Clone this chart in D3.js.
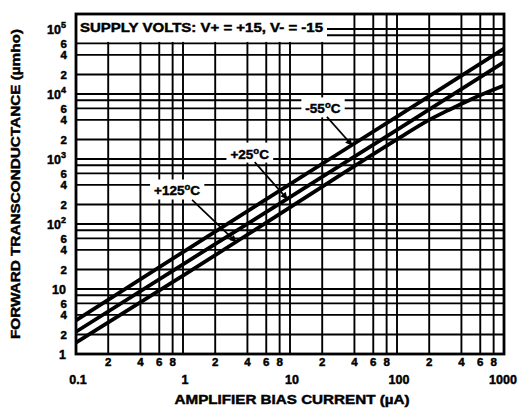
<!DOCTYPE html>
<html><head><meta charset="utf-8">
<script src="https://cdn.jsdelivr.net/npm/d3@7"></script>
<style>body{margin:0;background:#fff}svg{display:block}text{font-family:"Liberation Sans",Arial,sans-serif;font-weight:bold;fill:#000;stroke:#000;stroke-width:0.45px}</style>
</head><body><svg id="c" width="518" height="408"></svg>
<script>
// ---- data ----
const xDecades = [0.1, 1, 10, 100, 1000];
const xDecadeLabels = ["0.1", "1", "10", "100", "1000"];
const xMinorMult = [2, 4, 6, 8];
const yDecades = [1, 10, 100, 1000, 10000, 100000];
const yDecadeBase = ["1", "10", "10", "10", "10", "10"];
const yDecadeExp = ["", "", "2", "3", "4", "5"];
const yMinorMult = [2, 4, 6];
const gridMult = [1, 2, 4, 6, 8];

const current = [0.1, 1, 10, 100, 1000];
const gmMinus55 = [3.3, 37, 410, 4500, 50000];
const gmPlus25 = [2.2, 24, 260, 2800, 31000];
const current125 = [0.1, 1, 10, 100, 200, 300, 500, 1000];
const gmPlus125 = [1.5, 16, 180, 2000, 4000, 5600, 8400, 13500];

const seriesNames = ["-55°C", "+25°C", "+125°C"];
const labelI = [20.3, 4.2, 0.88];
const labelGm = [5900, 1190, 322];
const arrowI = [37.9, 9.4, 3.13];

const headerText = "SUPPLY VOLTS: V+ = +15, V- = -15";
const xTitle = "AMPLIFIER BIAS CURRENT (\u00b5A)";
const yTitle = "FORWARD TRANSCONDUCTANCE (\u00b5mho)";

// ---- layout ----
const L = 76, R = 504, B = 354, T = 14;
const x = d3.scaleLog().domain([0.1, 1000]).range([L, R]);
const yTopVal = Math.pow(10, (B - T) / 65);
const y = d3.scaleLog().domain([1, yTopVal]).range([B, T]);

const svg = d3.select("#c");

const xGrid = [];
xDecades.forEach(d => gridMult.forEach(m => { const v = d * m; if (v <= 1000 + 1e-9) xGrid.push(v); }));
const yGrid = [];
yDecades.forEach(d => gridMult.forEach(m => { const v = d * m; if (v <= 100000 + 1e-9) yGrid.push(v); }));

const g = svg.append("g");
g.selectAll("line.v").data(xGrid).join("line")
  .attr("x1", d => x(d)).attr("x2", d => x(d)).attr("y1", T).attr("y2", B)
  .attr("stroke", "#000").attr("stroke-width", 1.9);
g.selectAll("line.h").data(yGrid).join("line")
  .attr("x1", L).attr("x2", R).attr("y1", d => y(d)).attr("y2", d => y(d))
  .attr("stroke", "#000").attr("stroke-width", 1.9);

// header box
svg.append("rect").attr("x", L + 1).attr("y", T + 1).attr("width", 250).attr("height", y(60000) - T - 2.5).attr("fill", "#fff");
svg.append("text").attr("x", 80).attr("y", 32).attr("font-size", 13)
  .attr("textLength", 243).attr("lengthAdjust", "spacingAndGlyphs").text(headerText);

// border
svg.append("rect").attr("x", L).attr("y", T).attr("width", R - L).attr("height", B - T)
  .attr("fill", "none").attr("stroke", "#000").attr("stroke-width", 2.8);

// curves
const line = d3.line().x(d => x(d[0])).y(d => y(d[1])).curve(d3.curveMonotoneX);
const curves = [
  d3.zip(current, gmMinus55),
  d3.zip(current, gmPlus25),
  d3.zip(current125, gmPlus125)
];
svg.selectAll("path.curve").data(curves).join("path")
  .attr("d", line).attr("fill", "none").attr("stroke", "#000").attr("stroke-width", 3.8);

function gmAt(ci, I) {
  const c = curves[ci];
  for (let i = 0; i < c.length - 1; i++) {
    if (I >= c[i][0] && I <= c[i + 1][0]) {
      const t = (Math.log(I) - Math.log(c[i][0])) / (Math.log(c[i + 1][0]) - Math.log(c[i][0]));
      return Math.exp(Math.log(c[i][1]) + t * (Math.log(c[i + 1][1]) - Math.log(c[i][1])));
    }
  }
  return c[c.length - 1][1];
}

// annotations
const defs = svg.append("defs");
defs.append("marker").attr("id", "ah").attr("viewBox", "0 0 10 10").attr("refX", 9).attr("refY", 5)
  .attr("markerWidth", 9).attr("markerHeight", 7).attr("markerUnits", "userSpaceOnUse").attr("orient", "auto")
  .append("path").attr("d", "M0,0L10,5L0,10z").attr("fill", "#000");

const tailOff = [[4, 8], [5, 8], [15, 9]];
seriesNames.forEach((name, i) => {
  const cx = x(labelI[i]), cy = y(labelGm[i]);
  const t = svg.append("text").attr("x", cx).attr("y", cy + 4.5).attr("text-anchor", "middle").attr("font-size", 13.5);
  const parts = name.split("°");
  t.append("tspan").text(parts[0]);
  t.append("tspan").attr("dy", -5).attr("font-size", 9.5).text("o");
  t.append("tspan").attr("dy", 5).text(parts[1]);
  const bb = t.node().getBBox();
  svg.insert("rect", "text").attr("x", bb.x - 4).attr("y", bb.y - 2).attr("width", bb.width + 8).attr("height", bb.height + 3).attr("fill", "#fff");
  t.raise();
  const hx = x(arrowI[i]), hy = y(gmAt(i, arrowI[i]));
  svg.append("line").attr("x1", cx + tailOff[i][0]).attr("y1", cy + tailOff[i][1]).attr("x2", hx).attr("y2", hy)
    .attr("stroke", "#000").attr("stroke-width", 1.7).attr("marker-end", "url(#ah)");
});

// x tick labels
const xMinor = [];
xDecades.slice(0, -1).forEach(d => xMinorMult.forEach(m => xMinor.push(d * m)));
svg.selectAll("text.xm").data(xMinor).join("text")
  .attr("x", d => x(d)).attr("y", 366).attr("text-anchor", "middle").attr("font-size", 11.5)
  .text(d => String(Math.round(d / Math.pow(10, Math.floor(Math.log10(d) + 1e-9)))));
svg.selectAll("text.xd").data(xDecades).join("text")
  .attr("x", (d, i) => x(d) + (i === 4 ? -1 : 2)).attr("y", 384).attr("text-anchor", "middle").attr("font-size", 12.5)
  .text((d, i) => xDecadeLabels[i]);

// y tick labels
const yMinor = [];
yDecades.slice(0, -1).forEach(d => yMinorMult.forEach(m => yMinor.push([d * m, m])));
svg.selectAll("text.ym").data(yMinor).join("text")
  .attr("x", 67).attr("y", d => y(d[0]) + 4.5).attr("text-anchor", "end").attr("font-size", 11.5).text(d => d[1]);
yDecades.forEach((d, i) => {
  const t = svg.append("text").attr("x", 66).attr("y", y(d) + 5).attr("text-anchor", "end").attr("font-size", 12.5);
  t.append("tspan").text(yDecadeBase[i]);
  if (yDecadeExp[i]) t.append("tspan").attr("dy", -6).attr("font-size", 9).text(yDecadeExp[i]);
});

// titles
svg.append("text").attr("x", 292).attr("y", 404).attr("text-anchor", "middle").attr("font-size", 13)
  .attr("textLength", 235).attr("lengthAdjust", "spacingAndGlyphs").text(xTitle);
svg.append("text").attr("transform", "translate(20,184) rotate(-90)").attr("text-anchor", "middle").attr("font-size", 13)
  .attr("textLength", 310).attr("lengthAdjust", "spacingAndGlyphs").text(yTitle);
</script></body></html>
